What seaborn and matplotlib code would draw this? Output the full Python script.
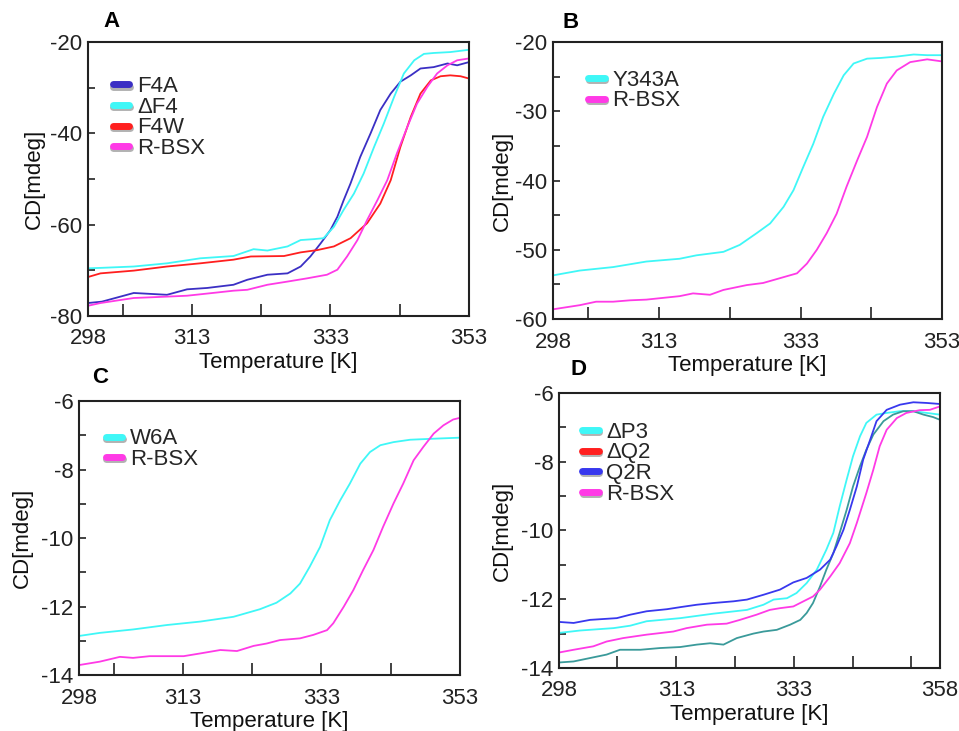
import pandas as pd
import seaborn as sns
import matplotlib.pyplot as plt
import matplotlib.patheffects as pe
from matplotlib.lines import Line2D

# ---------------- Panel A ----------------
a_f4a_t = [298, 300, 304.6, 309.4, 312.3, 315.2, 319.0, 321.0, 323.9, 326.8, 328.7, 330.1, 331.6,
           333.0, 334.0, 334.9, 335.9, 337.3, 338.8, 340.2, 341.7, 343.1, 344.6, 346.0, 347.9,
           349.9, 351.3, 353]
a_f4a_v = [-77.2, -76.9, -75.0, -75.4, -74.2, -73.9, -73.2, -72.1, -71.0, -70.7, -69.2, -67.0, -64.1,
           -61.2, -58.3, -54.7, -51.0, -45.2, -40.0, -34.9, -31.3, -28.7, -27.3, -25.8, -25.5,
           -24.7, -25.1, -24.4]
a_df4_t = [298, 299.8, 304.6, 309.4, 314.2, 319.0, 321.9, 323.9, 326.8, 328.7, 330.6, 332.0, 333.5,
           334.9, 336.4, 337.8, 339.3, 340.7, 342.2, 343.6, 345.1, 346.5, 347.9, 350.3, 353]
a_df4_v = [-69.6, -69.5, -69.2, -68.5, -67.4, -66.9, -65.4, -65.7, -64.8, -63.4, -63.2, -63.0, -60.5,
           -56.8, -53.2, -48.8, -43.0, -37.9, -32.0, -26.9, -24.0, -22.6, -22.4, -22.2, -21.7]
a_f4w_t = [298, 299.8, 304.6, 309.4, 314.2, 316.6, 319.0, 321.5, 326.3, 328.7, 331.1, 333.5, 335.9,
           338.3, 340.2, 341.7, 343.1, 344.6, 346.0, 347.5, 348.9, 350.3, 351.8, 353]
a_f4w_v = [-71.5, -70.7, -70.1, -69.2, -68.5, -68.1, -67.7, -67.0, -66.9, -66.1, -65.6, -64.8, -63.0,
           -59.7, -55.4, -50.3, -43.0, -36.4, -31.3, -28.4, -27.5, -27.3, -27.5, -28.0]
a_rbsx_t = [298, 299.8, 304.6, 309.4, 312.3, 316.6, 319.0, 321.0, 323.9, 326.8, 329.6, 332.5, 334.0,
            335.4, 336.9, 338.3, 339.8, 341.2, 342.6, 344.1, 345.5, 347.0, 348.4, 349.9, 351.3, 353]
a_rbsx_v = [-77.8, -77.2, -76.1, -75.8, -75.6, -74.9, -74.5, -74.3, -73.2, -72.5, -71.8, -71.0, -69.9,
            -67.0, -63.4, -59.0, -54.6, -50.3, -44.4, -38.6, -33.5, -29.8, -26.9, -25.1, -24.0, -23.6]

# ---------------- Panel B ----------------
b_y343a_t = [298, 301.8, 306.5, 311.2, 315.9, 318.3, 322.1, 324.4, 326.8, 328.7, 330.6, 332.0, 333.4,
             334.8, 336.2, 337.7, 339.1, 340.5, 342.4, 344.3, 346.6, 349.0, 350.9, 353]
b_y343a_v = [-53.7, -53.0, -52.5, -51.7, -51.3, -50.8, -50.3, -49.3, -47.6, -46.2, -43.8, -41.4, -38.0,
             -34.7, -30.8, -27.5, -24.8, -23.1, -22.4, -22.3, -22.1, -21.8, -21.9, -21.9]
b_rbsx_t = [298, 301.8, 304.1, 306.5, 308.9, 311.2, 315.9, 317.8, 320.2, 322.1, 325.4, 327.7, 330.1,
            332.5, 333.9, 335.3, 336.7, 338.1, 339.5, 341.0, 342.4, 343.8, 345.2, 346.6, 348.5,
            350.9, 353]
b_rbsx_v = [-58.6, -58.0, -57.5, -57.5, -57.3, -57.2, -56.7, -56.3, -56.5, -55.8, -55.1, -54.8, -54.1,
            -53.4, -52.0, -50.0, -47.6, -44.8, -40.9, -37.1, -33.7, -29.4, -26.0, -24.1, -22.9,
            -22.5, -22.8]

# ---------------- Panel C ----------------
c_w6a_t = [298, 301.0, 305.8, 310.7, 315.5, 320.3, 324.1, 326.5, 328.5, 329.9, 331.3, 332.8, 334.2,
           335.7, 337.1, 338.6, 340.0, 341.5, 343.4, 345.8, 349.2, 353]
c_w6a_v = [-12.86, -12.77, -12.67, -12.54, -12.44, -12.30, -12.08, -11.89, -11.62, -11.33, -10.84,
           -10.26, -9.48, -8.90, -8.41, -7.83, -7.49, -7.29, -7.20, -7.13, -7.10, -7.07]
c_rbsx_t = [298, 301.0, 303.9, 305.8, 308.2, 310.7, 313.1, 315.5, 318.4, 320.8, 323.2, 325.1, 327.0,
            329.9, 331.8, 333.8, 334.7, 336.2, 337.6, 339.0, 340.5, 341.9, 343.4, 344.8, 346.3,
            347.7, 349.2, 350.6, 352.0, 353]
c_rbsx_v = [-13.71, -13.61, -13.47, -13.50, -13.45, -13.45, -13.45, -13.37, -13.27, -13.30, -13.15,
            -13.08, -12.98, -12.93, -12.83, -12.69, -12.49, -12.01, -11.52, -10.94, -10.35, -9.67,
            -8.99, -8.41, -7.73, -7.34, -6.95, -6.71, -6.54, -6.49]

# ---------------- Panel D ----------------
d_dp3_t = [298, 301.3, 306.6, 309.2, 311.8, 317.1, 322.3, 327.6, 330.2, 331.8, 333.9, 335.4, 337.0,
           338.6, 340.1, 341.2, 342.2, 343.3, 344.3, 345.4, 346.4, 348.0, 349.6, 351.7, 353.8,
           355.9, 358]
d_dp3_v = [-12.98, -12.91, -12.84, -12.77, -12.64, -12.55, -12.42, -12.31, -12.16, -12.01, -11.97,
           -11.82, -11.53, -11.14, -10.56, -10.07, -9.30, -8.52, -7.84, -7.26, -6.87, -6.63, -6.58,
           -6.53, -6.53, -6.58, -6.63]
d_dq2_t = [298, 300.3, 302.9, 305.5, 307.6, 310.8, 313.9, 317.1, 319.7, 321.8, 323.9, 326.0, 328.6,
           330.2, 332.3, 334.4, 336.0, 337.0, 338.0, 339.1, 340.1, 341.2, 342.2, 343.3, 344.3,
           345.4, 346.4, 347.5, 349.1, 350.6, 352.2, 353.8, 355.4, 356.9, 358]
d_dq2_v = [-13.84, -13.81, -13.71, -13.61, -13.47, -13.47, -13.42, -13.39, -13.32, -13.28, -13.32,
           -13.13, -13.00, -12.94, -12.89, -12.74, -12.60, -12.40, -12.11, -11.63, -11.14, -10.66,
           -10.07, -9.40, -8.72, -8.13, -7.65, -7.21, -6.82, -6.63, -6.53, -6.53, -6.63, -6.70, -6.78]
d_q2r_t = [298, 300.3, 302.9, 307.1, 309.2, 311.8, 315.0, 317.1, 319.7, 322.3, 325.5, 327.6, 330.2,
           332.8, 334.9, 337.0, 339.1, 340.7, 341.7, 342.8, 343.8, 344.9, 345.9, 347.0, 348.0,
           349.6, 351.7, 353.8, 355.9, 358]
d_q2r_v = [-12.66, -12.69, -12.60, -12.55, -12.45, -12.35, -12.29, -12.23, -12.16, -12.11, -12.06,
           -12.01, -11.87, -11.72, -11.51, -11.38, -11.14, -10.85, -10.46, -9.98, -9.40, -8.72,
           -7.94, -7.36, -6.82, -6.49, -6.34, -6.27, -6.29, -6.32]
d_rbsx_t = [298, 300.3, 303.4, 305.5, 308.1, 311.8, 316.0, 318.1, 321.3, 324.4, 326.5, 329.1, 331.2,
            332.8, 334.9, 336.5, 338.0, 339.1, 340.7, 342.2, 343.8, 344.9, 346.4, 347.5, 348.5,
            349.6, 351.2, 352.7, 354.8, 356.4, 358]
d_rbsx_v = [-13.55, -13.47, -13.37, -13.23, -13.13, -13.03, -12.94, -12.84, -12.74, -12.71, -12.60,
            -12.45, -12.31, -12.26, -12.21, -12.06, -11.92, -11.72, -11.34, -10.95, -10.37, -9.78,
            -8.91, -8.23, -7.55, -7.07, -6.73, -6.58, -6.50, -6.49, -6.39]

# colores
CYAN = '#3ff7f7'
MAGENTA = '#ff3ae6'
RED = '#ff1f1f'
INDIGO = '#3b2fc4'
BLUE = '#3838ee'
TEAL = '#3a9a9a'

sns.set_style('ticks')
plt.rcParams['font.family'] = ['Liberation Sans', 'DejaVu Sans']
plt.rcParams['axes.unicode_minus'] = False
FS = 16


def armar_df(series):
    filas = []
    for nombre, tt, vv in series:
        for t, v in zip(tt, vv):
            filas.append({'T': t, 'CD': v, 'Muestra': nombre})
    return pd.DataFrame(filas)


def panel(ax, series, colores, leyenda, ylim, yticks, ymin_ticks, xlim, xticks, xlabels, xminor,
          letra, letra_pos, ley_pos, ylab_x):
    df = armar_df(series)
    pal = {s[0]: c for s, c in zip(series, colores)}
    sns.lineplot(data=df, x='T', y='CD', hue='Muestra', palette=pal, estimator=None,
                 sort=False, linewidth=1.3, legend=False, ax=ax)
    ax.set_xlim(*xlim)
    ax.set_ylim(*ylim)
    ax.set_xticks(xticks)
    ax.set_xticklabels(xlabels)
    ax.set_xticks(xminor, minor=True)
    ax.set_yticks(yticks)
    ax.set_yticks(ymin_ticks, minor=True)
    ax.tick_params(axis='x', which='both', direction='in', length=9, width=1.2,
                   labelsize=FS, pad=9, colors='#222222')
    ax.tick_params(axis='y', which='both', direction='in', length=5, width=1.2,
                   labelsize=FS, pad=4, colors='#222222')
    for sp in ax.spines.values():
        sp.set_visible(True)
        sp.set_linewidth(1.5)
        sp.set_color('#222222')
    ax.set_xlabel('Temperature [K]', fontsize=FS, labelpad=2, color='#111111')
    ax.set_ylabel('CD[mdeg]', fontsize=FS, color='#111111')
    ax.yaxis.set_label_coords(ylab_x, 0.5)
    handles = []
    for nombre, col in leyenda:
        h = Line2D([0], [0], color=col, linewidth=5)
        h.set_path_effects([pe.SimpleLineShadow(offset=(0.5, -1.5), shadow_color='gray', alpha=0.6),
                            pe.Normal()])
        handles.append(h)
    ax.legend(handles, [n for n, _ in leyenda], loc='upper left', bbox_to_anchor=ley_pos,
              frameon=False, fontsize=FS, handlelength=0.75, handletextpad=0.35,
              labelspacing=-0.02, borderpad=0, borderaxespad=0)
    ax.text(letra_pos[0], letra_pos[1], letra, transform=ax.transAxes, fontsize=16,
            fontweight='bold', ha='left', va='center', color='black')


fig = plt.figure(figsize=(9.59, 7.31), dpi=100)
axA = fig.add_axes([0.0918, 0.568, 0.3972, 0.3745])
axB = fig.add_axes([0.5766, 0.5636, 0.4057, 0.3789])
axC = fig.add_axes([0.0824, 0.0766, 0.3973, 0.3748])
axD = fig.add_axes([0.5829, 0.0862, 0.3973, 0.3762])

panel(axA,
      [('F4A', a_f4a_t, a_f4a_v), ('ΔF4', a_df4_t, a_df4_v),
       ('F4W', a_f4w_t, a_f4w_v), ('R-BSX', a_rbsx_t, a_rbsx_v)],
      [INDIGO, CYAN, RED, MAGENTA],
      [('F4A', INDIGO), ('ΔF4', CYAN), ('F4W', RED), ('R-BSX', MAGENTA)],
      (-80, -20), [-80, -60, -40, -20], [-70, -50, -30],
      (298, 353), [298, 313, 333, 353], ['298', '313', '333', '353'], [303, 323, 343],
      'A', (0.04, 1.075), (0.065, 0.875), -0.113)

panel(axB,
      [('Y343A', b_y343a_t, b_y343a_v), ('R-BSX', b_rbsx_t, b_rbsx_v)],
      [CYAN, MAGENTA],
      [('Y343A', CYAN), ('R-BSX', MAGENTA)],
      (-60, -20), [-60, -50, -40, -30, -20], [-55, -45, -35, -25],
      (298, 353), [298, 313, 333, 353], ['298', '313', '333', '353'], [303, 323, 343],
      'B', (0.025, 1.07), (0.09, 0.90), -0.103)

panel(axC,
      [('W6A', c_w6a_t, c_w6a_v), ('R-BSX', c_rbsx_t, c_rbsx_v)],
      [CYAN, MAGENTA],
      [('W6A', CYAN), ('R-BSX', MAGENTA)],
      (-14, -6), [-14, -12, -10, -8, -6], [-13, -11, -9, -7],
      (298, 353), [298, 313, 333, 353], ['298', '313', '333', '353'], [303, 323, 343],
      'C', (0.035, 1.085), (0.07, 0.90), -0.121)

panel(axD,
      [('ΔP3', d_dp3_t, d_dp3_v), ('ΔQ2', d_dq2_t, d_dq2_v),
       ('Q2R', d_q2r_t, d_q2r_v), ('R-BSX', d_rbsx_t, d_rbsx_v)],
      [CYAN, TEAL, BLUE, MAGENTA],
      [('ΔP3', CYAN), ('ΔQ2', RED), ('Q2R', BLUE), ('R-BSX', MAGENTA)],
      (-14, -6), [-14, -12, -10, -8, -6], [-13, -11, -9, -7],
      (298, 358), [298, 316.5, 335, 358], ['298', '313', '333', '358'], [307.2, 325.7, 344.3, 353.5],
      'D', (0.03, 1.085), (0.06, 0.895), -0.121)

fig.savefig('out.png', dpi=100)
